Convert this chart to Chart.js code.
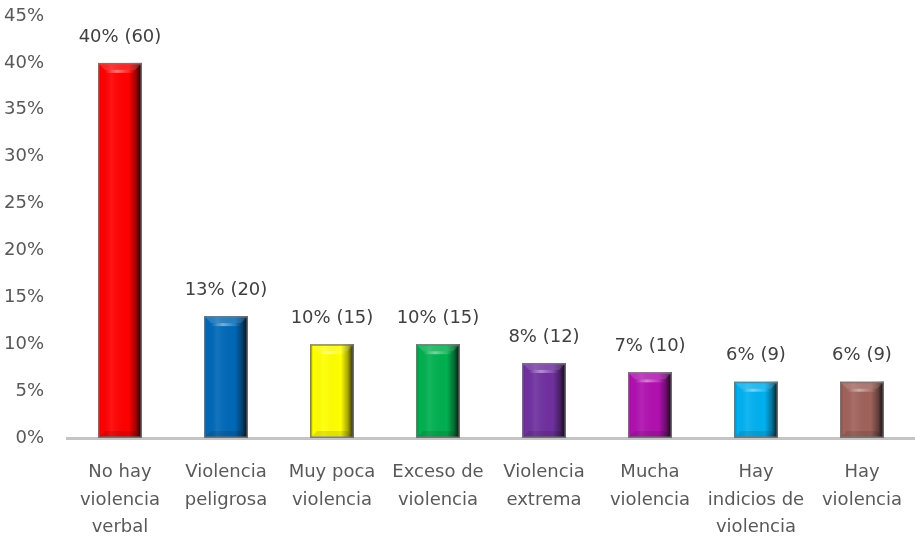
<!DOCTYPE html>
<html lang="es">
<head>
  <meta charset="UTF-8">
  <title>Violencia</title>
  <style>
    html, body {
      margin: 0;
      padding: 0;
      background: #ffffff;
    }
    .wrap {
      width: 915px;
      height: 539px;
      position: relative;
    }
  </style>
  <script src="https://cdn.jsdelivr.net/npm/chart.js"></script>
</head>
<body>
  <div class="wrap">
    <canvas id="violenciaChart"></canvas>
  </div>

  <script>
    const categorias = [
      ['No hay', 'violencia', 'verbal'],
      ['Violencia', 'peligrosa'],
      ['Muy poca', 'violencia'],
      ['Exceso de', 'violencia'],
      ['Violencia', 'extrema'],
      ['Mucha', 'violencia'],
      ['Hay', 'indicios de', 'violencia'],
      ['Hay', 'violencia']
    ];
    const porcentajes = [40, 13, 10, 10, 8, 7, 6, 6];
    const respuestas = [60, 20, 15, 15, 12, 10, 9, 9];
    const colores = ['#ff0000', '#0068b8', '#ffff00', '#00b04f', '#7030a0', '#b010b0', '#00b0f0', '#a0625b'];
    const yTicks = [0, 5, 10, 15, 20, 25, 30, 35, 40, 45];

    const fuente = "'DejaVu Sans', sans-serif";

    // Bevel / cylinder shading over each bar
    const bevelPlugin = {
      id: 'bevel',
      afterDatasetsDraw(chart) {
        const ctx = chart.ctx;
        const meta = chart.getDatasetMeta(0);
        meta.data.forEach((bar) => {
          const left = bar.x - bar.width / 2;
          const right = bar.x + bar.width / 2;
          const top = bar.y;
          const bottom = bar.base;
          const w = right - left;
          const h = bottom - top;
          const b = Math.min(7, h / 4);

          ctx.save();
          // horizontal shading: dark right edge
          const g = ctx.createLinearGradient(left, 0, right, 0);
          g.addColorStop(0, 'rgba(0,0,0,0.25)');
          g.addColorStop(0.08, 'rgba(0,0,0,0)');
          g.addColorStop(0.3, 'rgba(255,255,255,0.08)');
          g.addColorStop(0.7, 'rgba(0,0,0,0)');
          g.addColorStop(0.86, 'rgba(0,0,0,0.35)');
          g.addColorStop(1, 'rgba(0,0,0,0.9)');
          ctx.fillStyle = g;
          ctx.fillRect(left, top, w, h);

          // top bevel
          ctx.beginPath();
          ctx.moveTo(left, top);
          ctx.lineTo(right, top);
          ctx.lineTo(right - b, top + b);
          ctx.lineTo(left + b, top + b);
          ctx.closePath();
          ctx.fillStyle = 'rgba(255,255,255,0.15)';
          ctx.fill();

          // highlight streak under the top edge
          const hg = ctx.createLinearGradient(left + b, 0, right - b, 0);
          hg.addColorStop(0, 'rgba(255,255,255,0)');
          hg.addColorStop(0.4, 'rgba(255,255,255,0.45)');
          hg.addColorStop(1, 'rgba(255,255,255,0)');
          ctx.fillStyle = hg;
          ctx.fillRect(left + b, top + b, w - 2 * b, 3);

          // bottom bevel
          ctx.beginPath();
          ctx.moveTo(left, bottom);
          ctx.lineTo(right, bottom);
          ctx.lineTo(right - b, bottom - b);
          ctx.lineTo(left + b, bottom - b);
          ctx.closePath();
          ctx.fillStyle = 'rgba(0,0,0,0.1)';
          ctx.fill();

          // outline
          ctx.strokeStyle = 'rgba(120,120,120,0.9)';
          ctx.lineWidth = 1.5;
          ctx.strokeRect(left + 0.75, top + 0.75, w - 1.5, h - 1.5);
          ctx.restore();
        });
      }
    };

    // "40% (60)" labels above the bars
    const etiquetasPlugin = {
      id: 'etiquetas',
      afterDatasetsDraw(chart) {
        const ctx = chart.ctx;
        const meta = chart.getDatasetMeta(0);
        ctx.save();
        ctx.font = '18px ' + fuente;
        ctx.fillStyle = '#404040';
        ctx.textAlign = 'center';
        ctx.textBaseline = 'middle';
        meta.data.forEach((bar, i) => {
          ctx.fillText(porcentajes[i] + '% (' + respuestas[i] + ')', bar.x, bar.y - 26);
        });
        ctx.restore();
      }
    };

    const ctx = document.getElementById('violenciaChart').getContext('2d');
    new Chart(ctx, {
      type: 'bar',
      data: {
        labels: categorias,
        datasets: [{
          data: porcentajes,
          backgroundColor: colores,
          borderWidth: 0,
          barPercentage: 0.415,
          categoryPercentage: 1.0
        }]
      },
      options: {
        responsive: true,
        maintainAspectRatio: false,
        animation: false,
        layout: {
          padding: { top: 16, right: 0, bottom: 0, left: 0 }
        },
        scales: {
          y: {
            min: 0,
            max: 45,
            afterFit(scale) {
              scale.width = 67;
              scale.paddingTop = 0;
              scale.paddingBottom = 0;
            },
            afterBuildTicks(scale) {
              scale.ticks = yTicks.map(v => ({ value: v }));
            },
            grid: { display: false },
            border: { display: false },
            ticks: {
              padding: 15,
              color: '#595959',
              font: { family: fuente, size: 18 },
              callback: (v) => v + '%'
            }
          },
          x: {
            afterFit(scale) { scale.height = 101; },
            grid: { display: false },
            border: { display: true, color: '#c4c4c4', width: 3 },
            ticks: {
              padding: 12,
              color: '#595959',
              maxRotation: 0,
              autoSkip: false,
              font: { family: fuente, size: 18, lineHeight: 1.55 }
            }
          }
        },
        plugins: {
          legend: { display: false },
          tooltip: { enabled: false }
        }
      },
      plugins: [bevelPlugin, etiquetasPlugin]
    });
  </script>
</body>
</html>
